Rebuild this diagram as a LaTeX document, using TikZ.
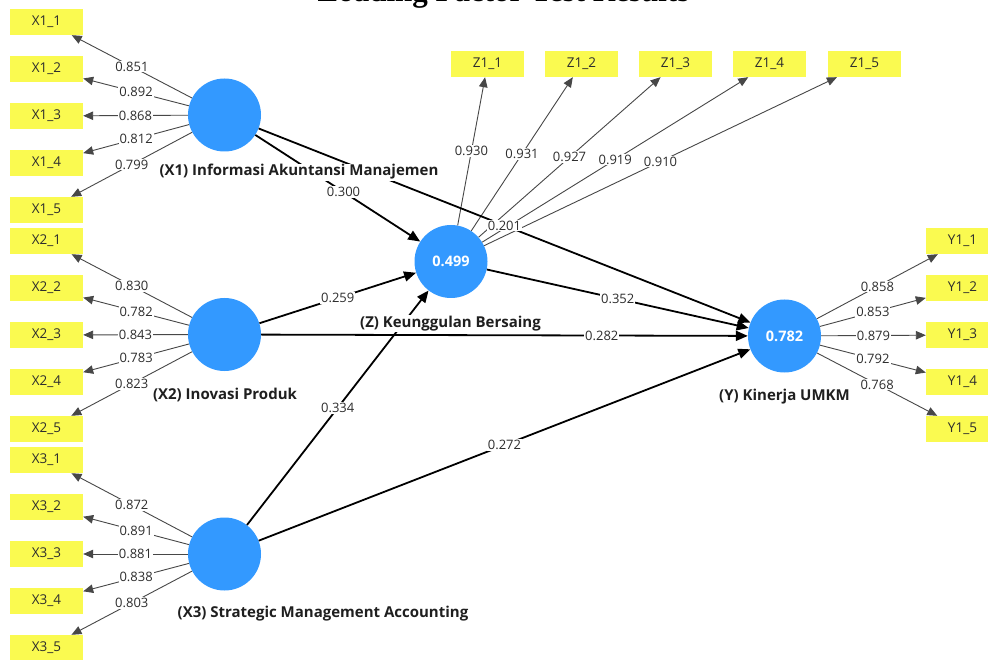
\documentclass[tikz,border=0pt]{standalone}
\usepackage{fontspec}
\setmainfont{Open Sans}
\newfontfamily\titlefont{Liberation Serif}
\usetikzlibrary{arrows.meta,calc}
\definecolor{latent}{RGB}{51,153,255}
\definecolor{indic}{RGB}{250,250,80}
\definecolor{lbltext}{RGB}{45,45,45}
\begin{document}
\begin{tikzpicture}[x=1pt,y=-1pt,
  lv/.style={circle,fill=latent,minimum size=73pt,inner sep=0pt,text=white,font=\fontsize{14.5}{16}\selectfont\bfseries},
  mv/.style={rectangle,fill=indic,minimum width=73pt,minimum height=26pt,inner sep=0pt,font=\fontsize{13.5}{15}\selectfont,text=lbltext},
  ldl/.style={draw=black!72,line width=0.9pt,-{Triangle[length=10pt,width=8.5pt]}},
  spl/.style={draw=black,line width=1.8pt,-{Triangle[length=12pt,width=10pt]}},
  coef/.style={fill=white,inner sep=1pt,font=\fontsize{13}{15}\selectfont,text=lbltext},
  lvname/.style={fill=white,inner sep=1pt,anchor=base,font=\fontsize{15}{17}\selectfont\bfseries,text=black!88}
]
\useasboundingbox (0,0) rectangle (988,660);
\fill[white] (0,0) rectangle (988,660);

% title (cut off by the top edge, as in the reference)
\node[anchor=base,inner sep=0pt,font=\titlefont\fontsize{31}{36}\selectfont\bfseries] (title) at (503.5,2) {Loading Factor Test Results};

% latent variables
\node[lv] (X1) at (224.5,115) {};
\node[lv] (X2) at (224.5,334.5) {};
\node[lv] (X3) at (224.5,554) {};
\node[lv] (Z) at (451,261.5) {0.499};
\node[lv] (Y) at (784.5,336) {0.782};

% indicators
\foreach \i/\yy in {1/22,2/69,3/116,4/163,5/210}
  \node[mv] (X1-\i) at (46.5,\yy) {X1\_\i};
\foreach \i/\yy in {1/241,2/288,3/335,4/382,5/429}
  \node[mv] (X2-\i) at (46.5,\yy) {X2\_\i};
\foreach \i/\yy in {1/460,2/507,3/554,4/601,5/648}
  \node[mv] (X3-\i) at (46.5,\yy) {X3\_\i};
\foreach \i/\xx in {1/487.5,2/581.5,3/675.5,4/769.5,5/864.5}
  \node[mv] (Z1-\i) at (\xx,64) {Z1\_\i};
\foreach \i/\yy in {1/241,2/288,3/335,4/382,5/429}
  \node[mv] (Y1-\i) at (962.5,\yy) {Y1\_\i};

% outer loadings
\foreach \i/\v in {1/0.851,2/0.892,3/0.868,4/0.812,5/0.799}
  \draw[ldl] (X1) -- node[coef] {\v} (X1-\i);
\foreach \i/\v in {1/0.830,2/0.782,3/0.843,4/0.783,5/0.823}
  \draw[ldl] (X2) -- node[coef] {\v} (X2-\i);
\foreach \i/\v in {1/0.872,2/0.891,3/0.881,4/0.838,5/0.803}
  \draw[ldl] (X3) -- node[coef] {\v} (X3-\i);
\foreach \i/\v in {1/0.930,2/0.931,3/0.927,4/0.919,5/0.910}
  \draw[ldl] (Z) -- node[coef] {\v} (Z1-\i);
\foreach \i/\v in {1/0.858,2/0.853,3/0.879,4/0.792,5/0.768}
  \draw[ldl] (Y) -- node[coef] {\v} (Y1-\i);

% path coefficients
\draw[spl] (X1) -- node[coef,pos=0.535] {0.300} (Z);
\draw[spl] (X1) -- node[coef] {0.201} (Y);
\draw[spl] (X2) -- node[coef] {0.259} (Z);
\draw[spl] (X2) -- node[coef,pos=0.7] {0.282} (Y);
\draw[spl] (X3) -- node[coef] {0.334} (Z);
\draw[spl] (X3) -- node[coef] {0.272} (Y);
\draw[spl] (Z) -- node[coef] {0.352} (Y);

% latent variable names
\node[lvname] (nX1) at (299,176) {(X1) Informasi Akuntansi Manajemen};
\node[lvname] (nX2) at (225,399) {(X2) Inovasi Produk};
\node[lvname] (nX3) at (323,617) {(X3) Strategic Management Accounting};
\node[lvname] (nZ) at (450.5,327) {(Z) Keunggulan Bersaing};
\node[lvname] (nY) at (784.5,400) {(Y) Kinerja UMKM};
\end{tikzpicture}
\end{document}
